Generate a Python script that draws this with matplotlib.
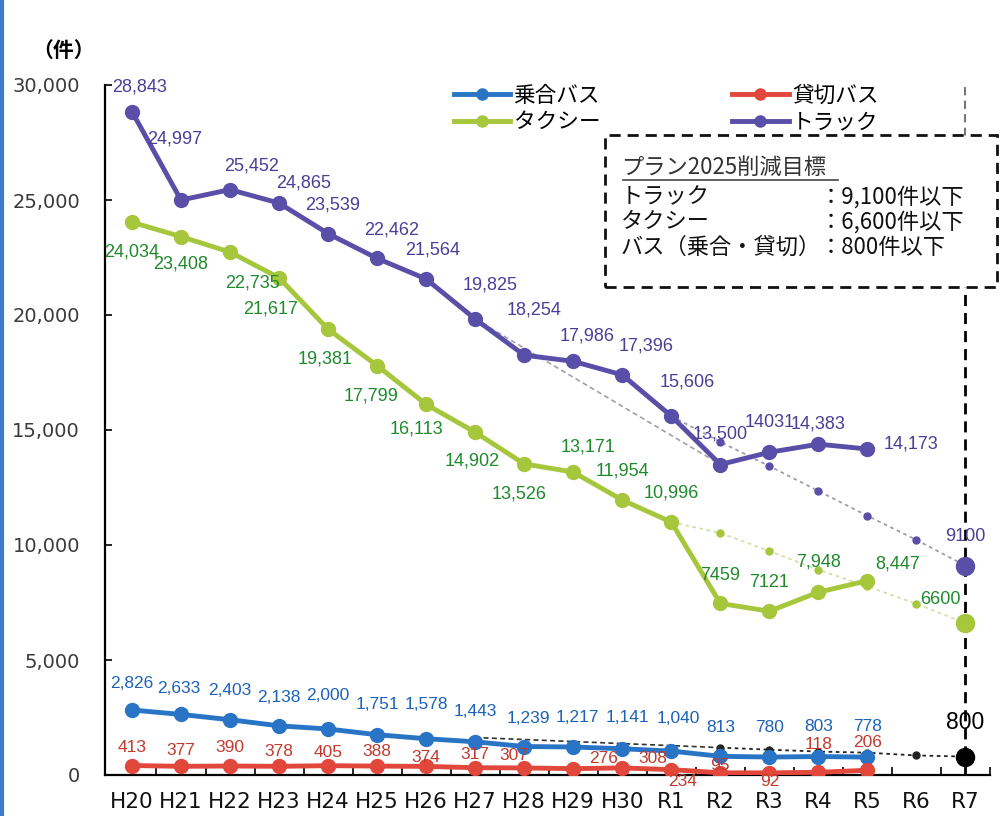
import matplotlib.pyplot as plt
from matplotlib.lines import Line2D
from matplotlib.patches import Rectangle
from matplotlib.ticker import FuncFormatter, FixedLocator

# 年度
years = ['H20', 'H21', 'H22', 'H23', 'H24', 'H25', 'H26', 'H27', 'H28',
         'H29', 'H30', 'R1', 'R2', 'R3', 'R4', 'R5', 'R6', 'R7']

# 事故件数の実績 (H20〜R5)
truck = [28843, 24997, 25452, 24865, 23539, 22462, 21564, 19825, 18254,
         17986, 17396, 15606, 13500, 14031, 14383, 14173]
taxi = [24034, 23408, 22735, 21617, 19381, 17799, 16113, 14902, 13526,
        13171, 11954, 10996, 7459, 7121, 7948, 8447]
bus_route = [2826, 2633, 2403, 2138, 2000, 1751, 1578, 1443, 1239,
             1217, 1141, 1040, 813, 780, 803, 778]
bus_charter = [413, 377, 390, 378, 405, 388, 374, 317, 307,
               276, 308, 234, 95, 92, 118, 206]

# プラン2025の削減目標への推移 (R1〜R7)
truck_plan = [15606, 14480, 13430, 12350, 11270, 10220, 9100]
taxi_plan = [10996, 10520, 9740, 8920, 8200, 7440, 6600]
bus_plan = [1280, 1190, 1100, 1020, 970, 850, 800]

# 前計画の推移 (H27〜R2)
truck_prev = [19825, 13500]
bus_prev = [1630, 1190]

# 目標値
truck_goal, taxi_goal, bus_goal = 9100, 6600, 800

# カンマなしで表示する年度
truck_plain = {13}
taxi_plain = {12, 13}

# ラベルの位置ずらし (ピクセル)
truck_off = [(8, 25), (-6, 61), (22, 24), (25, 20), (5, 29), (15, 28), (6, 29),
             (15, 34), (10, 45), (14, 25), (24, 29), (16, 34), (0, 30), (0, 30),
             (0, 20), (44, 5)]
taxi_off = [(0, -30), (0, -27), (22, -31), (-8, -31), (-3, -30), (-6, -30),
            (-10, -25), (-3, -29), (-5, -30), (15, 25), (0, 29), (0, 29),
            (0, 28), (0, 29), (0, 30), (30, 17)]
route_off = [(0, 27), (-2, 26), (0, 29), (0, 28), (0, 33), (0, 30), (0, 34),
             (0, 30), (4, 28), (4, 30), (5, 31), (7, 33), (0, 29), (0, 30),
             (0, 30), (0, 31)]
charter_off = [(0, 18), (0, 16), (0, 19), (0, 15), (0, 13), (0, 15), (0, 9),
               (0, 13), (-10, 12), (30, 10), (31, 9), (11, -12), (0, 7),
               (0, -9), (0, 28), (0, 28)]

C_TRUCK, C_TRUCK_TXT = '#5a4fa8', '#4a3f98'
C_TAXI, C_TAXI_TXT = '#a6c63c', '#1f8a2c'
C_ROUTE, C_ROUTE_TXT = '#2a74c6', '#1c62b8'
C_CHARTER, C_CHARTER_TXT = '#e2473c', '#c23a2e'

JP = ['Noto Sans CJK JP', 'DejaVu Sans']
NUM = 'Liberation Sans'
W, H = 1006, 816

fig = plt.figure(figsize=(10.06, 8.16), dpi=100)
fig.patch.set_facecolor('white')
ax = fig.add_axes([105 / W, 1 - 775 / H, 885 / W, 690 / H])
ax.set_xlim(-0.55, 17.5)
ax.set_ylim(0, 30000)

x_act = list(range(len(truck)))
x_plan = list(range(11, 18))

# 目標への推移 (点線)
ax.plot(x_plan, truck_plan, ls=(0, (2, 2)), color='#9c9cb0', lw=1.3,
        marker='o', ms=5, mfc=C_TRUCK, mec=C_TRUCK, zorder=2)
ax.plot(x_plan, taxi_plan, ls=(0, (2, 2)), color='#d3e0a8', lw=1.3,
        marker='o', ms=5, mfc=C_TAXI, mec=C_TAXI, zorder=2)
ax.plot(x_plan[1:], bus_plan[1:], ls=(0, (2, 2)), color='#222222', lw=1.3,
        marker='o', ms=5, mfc='#222222', mec='#222222', zorder=2)
ax.plot([7, 12], truck_prev, ls=(0, (3, 2)), color='#a0a0a8', lw=1.2, zorder=2)
ax.plot([7, 12], bus_prev, ls=(0, (3, 2)), color='#333333', lw=1.2, zorder=2)

# 実績
ax.plot(x_act, bus_route, color=C_ROUTE, lw=3.5, marker='o', ms=10, zorder=4)
ax.plot(x_act, taxi, color=C_TAXI, lw=3.5, marker='o', ms=10, zorder=4)
ax.plot(x_act, bus_charter, color=C_CHARTER, lw=3.5, marker='o', ms=10, zorder=4)
ax.plot(x_act, truck, color=C_TRUCK, lw=3.5, marker='o', ms=10, zorder=4)

# R7 の目標値
ax.plot([17, 17], [0, 21200], ls=(0, (4, 2.5)), color='black', lw=2, zorder=3)
ax.plot([17, 17], [27800, 30000], ls=(0, (4, 2.5)), color='#777777', lw=1.5,
        zorder=3, clip_on=False)
ax.plot(17, truck_goal, 'o', ms=13, color=C_TRUCK, zorder=5)
ax.plot(17, taxi_goal, 'o', ms=13, color=C_TAXI, zorder=5)
ax.plot(17, bus_goal, 'o', ms=13, color='black', zorder=5)


def put_labels(xs, vals, offs, color, plain=(), size=13):
    for i, (x, v, (dx, dy)) in enumerate(zip(xs, vals, offs)):
        txt = str(v) if i in plain else f'{v:,}'
        ax.annotate(txt, (x, v), xytext=(dx, dy),
                    textcoords='offset pixels', ha='center', va='center',
                    color=color, fontsize=size, family=NUM, zorder=6)


put_labels(x_act, truck, truck_off, C_TRUCK_TXT, truck_plain)
put_labels(x_act, taxi, taxi_off, C_TAXI_TXT, taxi_plain)
put_labels(x_act, bus_route, route_off, C_ROUTE_TXT, size=12.5)
put_labels(x_act, bus_charter, charter_off, C_CHARTER_TXT, size=12.5)
ax.annotate(str(truck_goal), (17, truck_goal), xytext=(0, 29),
            textcoords='offset pixels', ha='center', va='center',
            color=C_TRUCK_TXT, fontsize=13, family=NUM)
ax.annotate(str(taxi_goal), (17, taxi_goal), xytext=(-25, 24),
            textcoords='offset pixels', ha='center', va='center',
            color=C_TAXI_TXT, fontsize=13, family=NUM)
ax.annotate(str(bus_goal), (17, bus_goal), xytext=(0, 34),
            textcoords='offset pixels', ha='center', va='center',
            color='black', fontsize=16.5, family=NUM)

# 軸
for s in ('top', 'right'):
    ax.spines[s].set_visible(False)
for s in ('left', 'bottom'):
    ax.spines[s].set_linewidth(1.6)
ax.set_yticks(range(0, 30001, 5000))
ax.yaxis.set_major_formatter(FuncFormatter(lambda v, p: f'{int(v):,}'))
ax.tick_params(axis='y', direction='in', length=5, width=1.2, pad=18,
               labelsize=14, labelcolor='#3a3a3a')
for t in ax.get_yticklabels():
    t.set_family('DejaVu Sans')
ax.xaxis.set_major_locator(FixedLocator([i + 0.5 for i in range(18)]))
ax.xaxis.set_minor_locator(FixedLocator(list(range(18))))
ax.set_xticklabels([], minor=False)
ax.set_xticklabels(years, minor=True, family='DejaVu Sans')
ax.tick_params(axis='x', which='major', direction='in', length=6, width=1.2)
ax.tick_params(axis='x', which='minor', length=0, pad=12, labelsize=15.5,
               labelcolor='#111111')

fig.text(32 / W, 1 - 50 / H, '（件）', fontsize=15, fontweight='bold',
         family=JP, va='center', ha='left')

# 凡例
handles = [Line2D([], [], color=c, lw=3.5, marker='o', ms=8)
           for c in (C_ROUTE, C_TAXI, C_CHARTER, C_TRUCK)]
ax.legend(handles, ['乗合バス', 'タクシー', '貸切バス', 'トラック'], ncol=2,
          loc='upper left', bbox_to_anchor=(454 / W, 1 - 85 / H),
          bbox_transform=fig.transFigure, frameon=False,
          prop={'family': JP, 'size': 15.6}, handlelength=2.6,
          handletextpad=0.15, columnspacing=6.1, labelspacing=0.2,
          borderpad=0, borderaxespad=0)

# プラン2025削減目標の枠
fig.patches.append(Rectangle((605 / W, 1 - 287 / H), 392 / W, 152 / H,
                             transform=fig.transFigure, fill=True,
                             facecolor='white', edgecolor='#111111', lw=2,
                             ls=(0, (4, 2.5)), zorder=10))
fig.text(621 / W, 1 - 167 / H, 'プラン2025削減目標', fontsize=16, family=JP,
         va='center', ha='left', color='#333333', zorder=11)
fig.lines.append(Line2D([623 / W, 838 / W], [1 - 180 / H, 1 - 180 / H],
                        transform=fig.transFigure, color='#555555', lw=1.3,
                        zorder=11))
rows = [('トラック', '：9,100件以下'), ('タクシー', '：6,600件以下'),
        ('バス（乗合・貸切）', '：800件以下')]
for i, (name, goal) in enumerate(rows):
    y = 1 - (197 + 25 * i) / H
    fig.text(621 / W, y, name, fontsize=16, family=JP, va='center',
             ha='left', color='#111111', zorder=11)
    fig.text(820 / W, y, goal, fontsize=16, family=JP, va='center',
             ha='left', color='#111111', zorder=11)

# 左端の縁
fig.lines.append(Line2D([0.0015, 0.0015], [0, 1], transform=fig.transFigure,
                        color='#3c7ccc', lw=3))

fig.savefig('out.png', dpi=100)
